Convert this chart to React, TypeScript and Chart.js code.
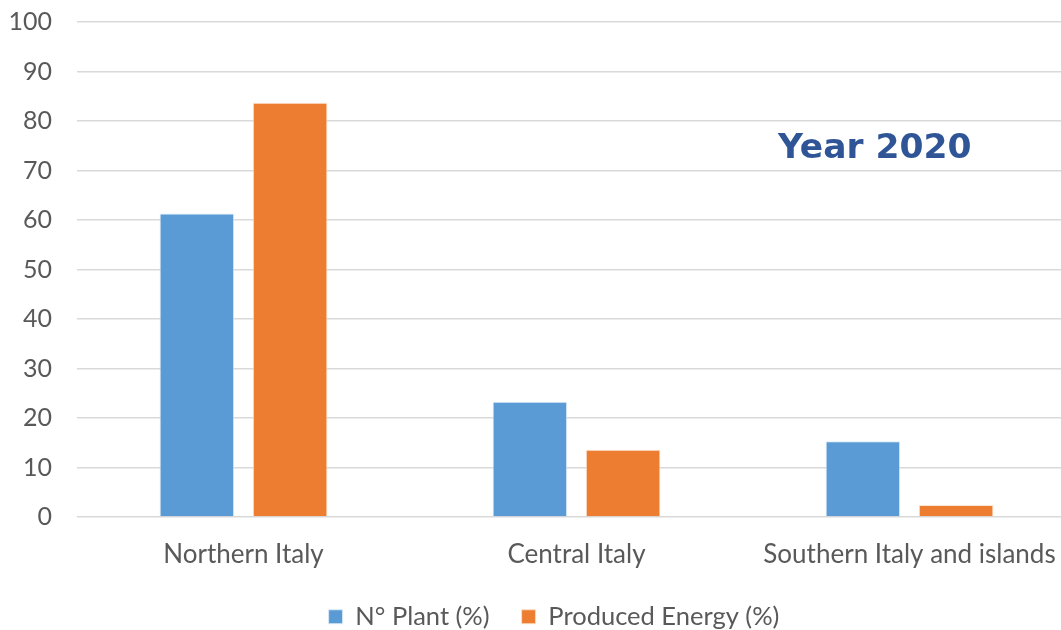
import React, { useEffect, useRef } from "react";
import { Chart, registerables } from "chart.js";

Chart.register(...registerables);

const categories = ["Northern Italy", "Central Italy", "Southern Italy and islands"];
const plantValues = [61.3, 23.3, 15.3];
const energyValues = [83.7, 13.6, 2.4];
const seriesLabels = ["N° Plant (%)", "Produced Energy (%)"];
const titleText = "Year 2020";

const FONT = "Lato, 'Open Sans', sans-serif";

const legendFix = {
  id: "legendFix",
  beforeLayout(chart: any) {
    const l = chart.legend;
    if (!l || l.__patched) return;
    const orig = l.fit;
    l.fit = function (...args: any[]) {
      orig.apply(this, args);
      this.height = 53;
    };
    l.__patched = true;
  },
  afterLayout(chart: any) {
    const l = chart.legend;
    if (!l) return;
    const dx = 16;
    l.left += dx;
    l.right += dx;
    l.top = 572;
    l.bottom = 630;
    l.height = 58;
  },
};

export default function App() {
  const ref = useRef<HTMLCanvasElement>(null);

  useEffect(() => {
    document.body.style.margin = "0";
    document.body.style.overflow = "hidden";
    const ctx = ref.current!;
    const chart = new Chart(ctx, {
      type: "bar",
      data: {
        labels: categories,
        datasets: [
          {
            label: seriesLabels[0],
            data: plantValues,
            backgroundColor: "#5B9BD5",
            borderColor: "rgba(220,235,250,0.9)",
            borderWidth: 1,
            barPercentage: 0.8,
            categoryPercentage: 0.56,
          },
          {
            label: seriesLabels[1],
            data: energyValues,
            backgroundColor: "#ED7D31",
            borderColor: "rgba(250,225,205,0.9)",
            borderWidth: 1,
            barPercentage: 0.8,
            categoryPercentage: 0.56,
          },
        ],
      },
      plugins: [legendFix],
      options: {
        responsive: false,
        animation: false,
        devicePixelRatio: 1,
        layout: { padding: { left: 0, top: 22, right: 0, bottom: 0 } },
        plugins: {
          tooltip: { enabled: false },
          legend: {
            position: "bottom",
            labels: {
              boxWidth: 14,
              boxHeight: 14,
              padding: 32,
              color: "#595959",
              font: { family: FONT, size: 25.5 },
            },
          },
        },
        scales: {
          x: {
            grid: { display: false },
            border: { display: false },
            afterFit: (scale: any) => {
              scale.height = 60;
            },
            ticks: {
              color: "#595959",
              padding: 14,
              font: { family: FONT, size: 26 },
              maxRotation: 0,
              autoSkip: false,
            },
          },
          y: {
            min: 0,
            max: 100,
            afterFit: (scale: any) => {
              scale.width = 77;
              scale.paddingTop = 0;
              scale.paddingBottom = 0;
            },
            ticks: {
              stepSize: 10,
              color: "#595959",
              padding: 25,
              font: { family: FONT, size: 25 },
            },
            grid: { color: "#d9d9d9", lineWidth: 1.5, drawTicks: false },
            border: { display: false },
          },
        },
      },
    });
    return () => chart.destroy();
  }, []);

  return (
    <div
      style={{
        position: "fixed",
        left: 0,
        top: 0,
        width: 1061,
        height: 630,
        overflow: "hidden",
        background: "#fff",
      }}
    >
      <canvas ref={ref} width={1076} height={630} style={{ display: "block" }} />
      <div
        style={{
          position: "absolute",
          left: 778,
          top: 129,
          fontFamily: "'DejaVu Sans', sans-serif",
          fontWeight: 700,
          fontSize: 34.5,
          lineHeight: 1,
          color: "#2F5597",
          whiteSpace: "nowrap",
        }}
      >
        {titleText}
      </div>
    </div>
  );
}
